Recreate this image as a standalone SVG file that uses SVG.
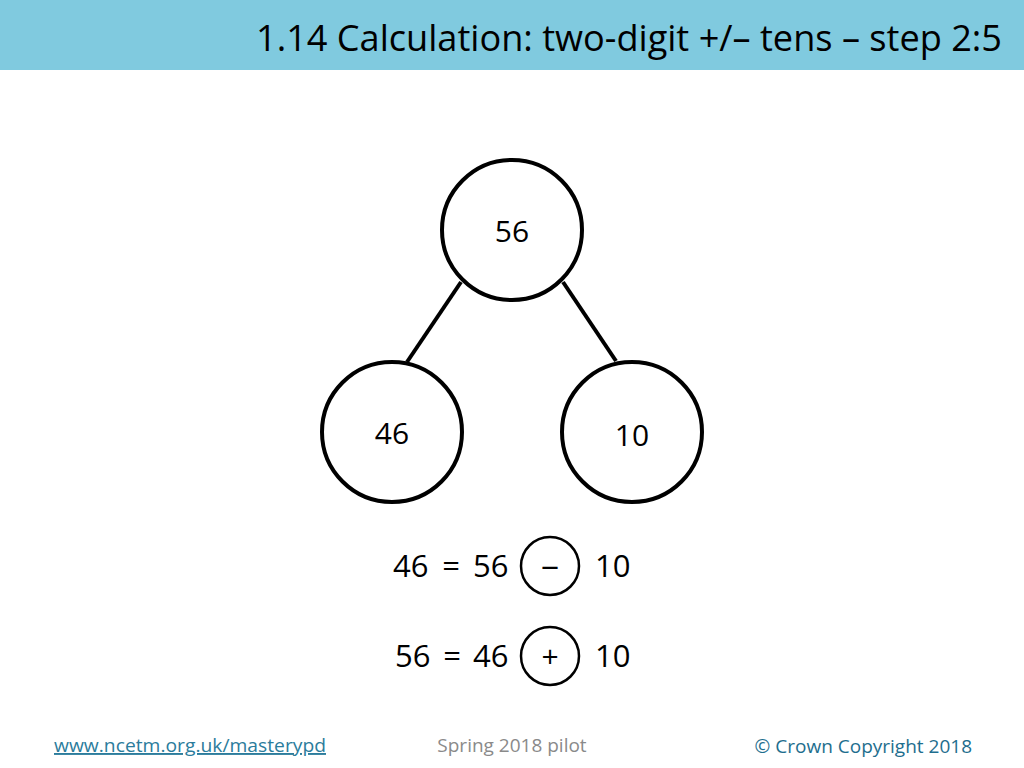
<svg xmlns="http://www.w3.org/2000/svg" width="1024" height="768" viewBox="0 0 1024 768">
<style>
.c{fill:#fff;stroke:#000;stroke-width:4}
.s{fill:none;stroke:#000;stroke-width:2.5}
.n{font-family:"Open Sans","Noto Sans",sans-serif;font-size:30px;fill:#000;text-anchor:middle}
.e{font-family:"Open Sans","Noto Sans",sans-serif;font-size:31px;fill:#000}
.f{font-family:"Open Sans","Noto Sans",sans-serif;font-size:19px}
</style>
<rect x="0" y="0" width="1024" height="768" fill="#fff"/>
<rect x="0" y="0" width="1024" height="70" fill="#80CADF"/>
<text x="256" y="51" font-family="'Open Sans','Noto Sans',sans-serif" font-size="36" fill="#000" textLength="746" lengthAdjust="spacingAndGlyphs">1.14 Calculation: two-digit +/– tens – step 2:5</text>
<g id="connectors">
<line x1="461" y1="282" x2="407" y2="362" stroke="#000" stroke-width="4"/>
<line x1="563" y1="282" x2="616" y2="361" stroke="#000" stroke-width="4"/>
</g>
<g id="node-56"><circle class="c" cx="512" cy="230" r="70"/><text class="n" x="512" y="242">56</text></g>
<g id="node-46"><circle class="c" cx="392" cy="432" r="70"/><text class="n" x="392" y="444">46</text></g>
<g id="node-10"><circle class="c" cx="632" cy="432" r="70"/><text class="n" x="632" y="446">10</text></g>
<g id="eq1">
<text class="e" x="393" y="577">46</text>
<text class="e" x="451" y="577" text-anchor="middle">=</text>
<text class="e" x="473" y="577">56</text>
<circle class="s" cx="550" cy="566" r="29"/>
<text class="e" x="541" y="576" font-size="32" textLength="18" lengthAdjust="spacingAndGlyphs">–</text>
<text class="e" x="595" y="577">10</text>
</g>
<g id="eq2">
<text class="e" x="395" y="667">56</text>
<text class="e" x="452" y="667" text-anchor="middle">=</text>
<text class="e" x="473" y="667">46</text>
<circle class="s" cx="550" cy="656" r="29"/>
<text class="n" x="550" y="667" font-size="32">+</text>
<text class="e" x="595" y="667">10</text>
</g>
<g id="footer">
<text class="f" x="54" y="752" fill="#2B7C9C" text-decoration="underline" textLength="272" lengthAdjust="spacingAndGlyphs">www.ncetm.org.uk/masterypd</text>
<text class="f" x="512" y="752" fill="#8a8a8a" text-anchor="middle">Spring 2018 pilot</text>
<text class="f" x="972" y="753" fill="#1E6E8E" text-anchor="end">© Crown Copyright 2018</text>
</g>
</svg>
